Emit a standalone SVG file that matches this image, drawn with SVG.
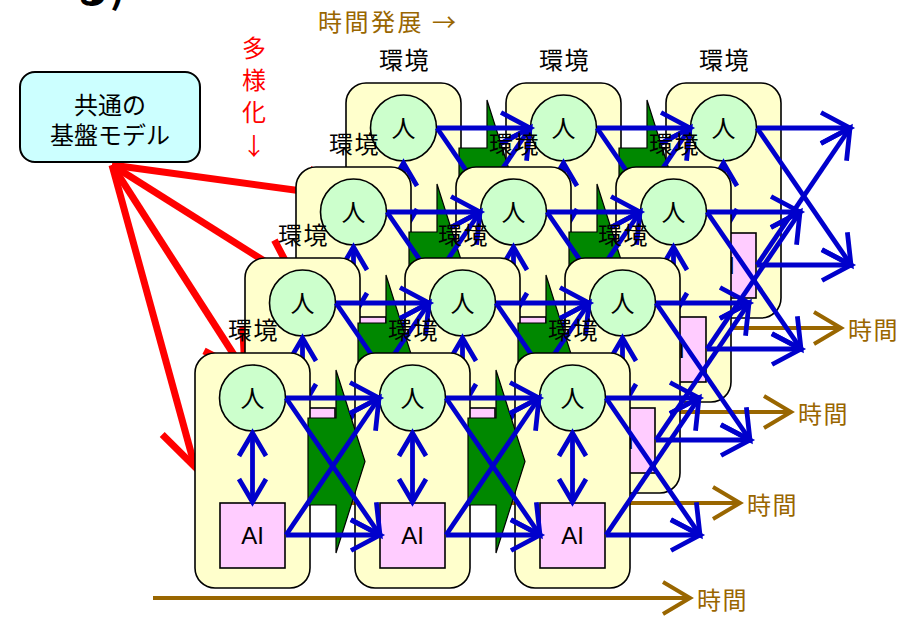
<svg xmlns="http://www.w3.org/2000/svg" width="908" height="618" viewBox="0 0 908 618">
<style>
.env{fill:#FFFFCC;stroke:#000;stroke-width:1.6}
.hum{fill:#CCFFCC;stroke:#000;stroke-width:1.6}
.ai{fill:#FFCCFF;stroke:#000;stroke-width:1.6}
.jp{font-family:'Noto Sans CJK JP',sans-serif;font-size:24px;text-anchor:middle;fill:#000}
.lbl{font-family:'Noto Sans CJK JP',sans-serif;font-size:24px;text-anchor:middle;fill:#000;letter-spacing:1.5px}
.ait{font-family:'Liberation Sans',Arial,sans-serif;font-size:24px;text-anchor:middle;fill:#000}
.grn{fill:#008800;stroke:#000;stroke-width:1.2}
.bl{stroke:#0000CC;stroke-width:4.8;fill:none;marker-end:url(#mb)}
.dbl{stroke:#0000CC;stroke-width:4.8;fill:none;marker-start:url(#md);marker-end:url(#md)}
.tm{stroke:#996600;stroke-width:4;fill:none;marker-end:url(#mt)}
.tmt{font-family:'Noto Sans CJK JP',sans-serif;font-size:24px;fill:#996600;letter-spacing:1.5px}
.red{stroke:#FF0000;stroke-width:7;fill:none;marker-end:url(#mr)}
</style>
<defs>
<marker id="mb" markerUnits="userSpaceOnUse" orient="auto" refX="0" refY="0" markerWidth="1" markerHeight="1" style="overflow:visible"><path d="M-29,-15.5 L0,0 L-29,15.5" fill="none" stroke="#0000CC" stroke-width="4.8"/></marker>
<marker id="md" markerUnits="userSpaceOnUse" orient="auto-start-reverse" refX="0" refY="0" markerWidth="1" markerHeight="1" style="overflow:visible"><path d="M-23,-13.5 L0,0 L-23,13.5" fill="none" stroke="#0000CC" stroke-width="4.8"/></marker>
<marker id="mt" markerUnits="userSpaceOnUse" orient="auto" refX="0" refY="0" markerWidth="1" markerHeight="1" style="overflow:visible"><path d="M-27,-16 L0,0 L-27,16" fill="none" stroke="#996600" stroke-width="4"/></marker>
<marker id="mr" markerUnits="userSpaceOnUse" orient="auto" refX="0" refY="0" markerWidth="1" markerHeight="1" style="overflow:visible"><path d="M-40,-23 L0,0 L-40,23" fill="none" stroke="#FF0000" stroke-width="7"/></marker>
</defs>
<rect width="908" height="618" fill="#FFFFFF"/>

<text x="70" y="3" font-family="'Noto Sans CJK JP',sans-serif" font-size="40" font-weight="bold" fill="#000">る)</text>
<text x="318" y="31" font-family="'Noto Sans CJK JP',sans-serif" font-size="24px" fill="#996600" letter-spacing="2.5">時間発展 →</text>
<g id="diversify-label" font-family="'Noto Sans CJK JP',sans-serif" font-size="24px" fill="#FF0000" text-anchor="middle">
<text x="254" y="57">多</text>
<text x="254" y="89">様</text>
<text x="254" y="121">化</text>
<text x="254" y="155">↓</text>
</g>

<!-- red arrow to layer 3 -->
<g id="red-L3"><path class="red" d="M112,165 L346,197"/></g>

<!-- LAYER 3 -->
<g id="layer3" transform="translate(151,-270)">
<g id="L3-env1">
<rect class="env" x="195" y="353" width="115" height="235" rx="20"/><text class="lbl" x="253.5" y="339">環境</text>
<circle class="hum" cx="252.5" cy="398" r="33"/><text class="jp" x="252.5" y="407">人</text>
<rect class="ai" x="220" y="503" width="65" height="65"/><text class="ait" x="252.5" y="544">AI</text>
</g>
<g id="L3-env2" transform="translate(160,0)">
<rect class="env" x="195" y="353" width="115" height="235" rx="20"/><text class="lbl" x="253.5" y="339">環境</text>
<circle class="hum" cx="252.5" cy="398" r="33"/><text class="jp" x="252.5" y="407">人</text>
<rect class="ai" x="220" y="503" width="65" height="65"/><text class="ait" x="252.5" y="544">AI</text>
</g>
<g id="L3-env3" transform="translate(320,0)">
<rect class="env" x="195" y="353" width="115" height="235" rx="20"/><text class="lbl" x="253.5" y="339">環境</text>
<circle class="hum" cx="252.5" cy="398" r="33"/><text class="jp" x="252.5" y="407">人</text>
<rect class="ai" x="220" y="503" width="65" height="65"/><text class="ait" x="252.5" y="544">AI</text>
</g>
<g id="L3-connectors">
<path class="grn" d="M308,418 H336 V370 L365,461.5 L336,553 V505 H308 Z"/>
<path class="grn" d="M468,418 H496 V370 L525,461.5 L496,553 V505 H468 Z"/>
<line class="dbl" x1="252.5" y1="433" x2="252.5" y2="502"/>
<line class="dbl" x1="412.5" y1="433" x2="412.5" y2="502"/>
<line class="dbl" x1="572.5" y1="433" x2="572.5" y2="502"/>
<path class="bl" d="M286,398 L379,398"/><path class="bl" d="M286,398 L380,535"/><path class="bl" d="M286,535 L379,398"/><path class="bl" d="M286,535 L380,535"/>
<path class="bl" d="M446,398 L539,398"/><path class="bl" d="M446,398 L540,535"/><path class="bl" d="M446,535 L539,398"/><path class="bl" d="M446,535 L540,535"/>
<path class="bl" d="M606,398 L699,398"/><path class="bl" d="M606,398 L700,535"/><path class="bl" d="M606,535 L699,398"/><path class="bl" d="M606,535 L700,535"/>
<line class="tm" x1="153" y1="598" x2="690" y2="598"/>
<text class="tmt" x="697" y="609">時間</text>
</g>
</g>

<g id="red-L2"><path class="red" d="M112,165 L296,281"/></g>

<!-- LAYER 2 -->
<g id="layer2" transform="translate(101,-186)">
<g id="L2-env1">
<rect class="env" x="195" y="353" width="115" height="235" rx="20"/><text class="lbl" x="253.5" y="339">環境</text>
<circle class="hum" cx="252.5" cy="398" r="33"/><text class="jp" x="252.5" y="407">人</text>
<rect class="ai" x="220" y="503" width="65" height="65"/><text class="ait" x="252.5" y="544">AI</text>
</g>
<g id="L2-env2" transform="translate(160,0)">
<rect class="env" x="195" y="353" width="115" height="235" rx="20"/><text class="lbl" x="253.5" y="339">環境</text>
<circle class="hum" cx="252.5" cy="398" r="33"/><text class="jp" x="252.5" y="407">人</text>
<rect class="ai" x="220" y="503" width="65" height="65"/><text class="ait" x="252.5" y="544">AI</text>
</g>
<g id="L2-env3" transform="translate(320,0)">
<rect class="env" x="195" y="353" width="115" height="235" rx="20"/><text class="lbl" x="253.5" y="339">環境</text>
<circle class="hum" cx="252.5" cy="398" r="33"/><text class="jp" x="252.5" y="407">人</text>
<rect class="ai" x="220" y="503" width="65" height="65"/><text class="ait" x="252.5" y="544">AI</text>
</g>
<g id="L2-connectors">
<path class="grn" d="M308,418 H336 V370 L365,461.5 L336,553 V505 H308 Z"/>
<path class="grn" d="M468,418 H496 V370 L525,461.5 L496,553 V505 H468 Z"/>
<line class="dbl" x1="252.5" y1="433" x2="252.5" y2="502"/>
<line class="dbl" x1="412.5" y1="433" x2="412.5" y2="502"/>
<line class="dbl" x1="572.5" y1="433" x2="572.5" y2="502"/>
<path class="bl" d="M286,398 L379,398"/><path class="bl" d="M286,398 L380,535"/><path class="bl" d="M286,535 L379,398"/><path class="bl" d="M286,535 L380,535"/>
<path class="bl" d="M446,398 L539,398"/><path class="bl" d="M446,398 L540,535"/><path class="bl" d="M446,535 L539,398"/><path class="bl" d="M446,535 L540,535"/>
<path class="bl" d="M606,398 L699,398"/><path class="bl" d="M606,398 L700,535"/><path class="bl" d="M606,535 L699,398"/><path class="bl" d="M606,535 L700,535"/>
<line class="tm" x1="153" y1="598" x2="690" y2="598"/>
<text class="tmt" x="697" y="609">時間</text>
</g>
</g>

<g id="red-L1"><path class="red" d="M112,165 L245,372"/></g>

<!-- LAYER 1 -->
<g id="layer1" transform="translate(50,-95)">
<g id="L1-env1">
<rect class="env" x="195" y="353" width="115" height="235" rx="20"/><text class="lbl" x="253.5" y="339">環境</text>
<circle class="hum" cx="252.5" cy="398" r="33"/><text class="jp" x="252.5" y="407">人</text>
<rect class="ai" x="220" y="503" width="65" height="65"/><text class="ait" x="252.5" y="544">AI</text>
</g>
<g id="L1-env2" transform="translate(160,0)">
<rect class="env" x="195" y="353" width="115" height="235" rx="20"/><text class="lbl" x="253.5" y="339">環境</text>
<circle class="hum" cx="252.5" cy="398" r="33"/><text class="jp" x="252.5" y="407">人</text>
<rect class="ai" x="220" y="503" width="65" height="65"/><text class="ait" x="252.5" y="544">AI</text>
</g>
<g id="L1-env3" transform="translate(320,0)">
<rect class="env" x="195" y="353" width="115" height="235" rx="20"/><text class="lbl" x="253.5" y="339">環境</text>
<circle class="hum" cx="252.5" cy="398" r="33"/><text class="jp" x="252.5" y="407">人</text>
<rect class="ai" x="220" y="503" width="65" height="65"/><text class="ait" x="252.5" y="544">AI</text>
</g>
<g id="L1-connectors">
<path class="grn" d="M308,418 H336 V370 L365,461.5 L336,553 V505 H308 Z"/>
<path class="grn" d="M468,418 H496 V370 L525,461.5 L496,553 V505 H468 Z"/>
<line class="dbl" x1="252.5" y1="433" x2="252.5" y2="502"/>
<line class="dbl" x1="412.5" y1="433" x2="412.5" y2="502"/>
<line class="dbl" x1="572.5" y1="433" x2="572.5" y2="502"/>
<path class="bl" d="M286,398 L379,398"/><path class="bl" d="M286,398 L380,535"/><path class="bl" d="M286,535 L379,398"/><path class="bl" d="M286,535 L380,535"/>
<path class="bl" d="M446,398 L539,398"/><path class="bl" d="M446,398 L540,535"/><path class="bl" d="M446,535 L539,398"/><path class="bl" d="M446,535 L540,535"/>
<path class="bl" d="M606,398 L699,398"/><path class="bl" d="M606,398 L700,535"/><path class="bl" d="M606,535 L699,398"/><path class="bl" d="M606,535 L700,535"/>
<line class="tm" x1="153" y1="598" x2="690" y2="598"/>
<text class="tmt" x="697" y="609">時間</text>
</g>
</g>

<g id="red-L0"><path class="red" d="M112,165 L195,467"/></g>

<!-- LAYER 0 (front) -->
<g id="layer0">
<g id="L0-env1">
<rect class="env" x="195" y="353" width="115" height="235" rx="20"/><text class="lbl" x="253.5" y="339">環境</text>
<circle class="hum" cx="252.5" cy="398" r="33"/><text class="jp" x="252.5" y="407">人</text>
<rect class="ai" x="220" y="503" width="65" height="65"/><text class="ait" x="252.5" y="544">AI</text>
</g>
<g id="L0-env2" transform="translate(160,0)">
<rect class="env" x="195" y="353" width="115" height="235" rx="20"/><text class="lbl" x="253.5" y="339">環境</text>
<circle class="hum" cx="252.5" cy="398" r="33"/><text class="jp" x="252.5" y="407">人</text>
<rect class="ai" x="220" y="503" width="65" height="65"/><text class="ait" x="252.5" y="544">AI</text>
</g>
<g id="L0-env3" transform="translate(320,0)">
<rect class="env" x="195" y="353" width="115" height="235" rx="20"/><text class="lbl" x="253.5" y="339">環境</text>
<circle class="hum" cx="252.5" cy="398" r="33"/><text class="jp" x="252.5" y="407">人</text>
<rect class="ai" x="220" y="503" width="65" height="65"/><text class="ait" x="252.5" y="544">AI</text>
</g>
<g id="L0-connectors">
<path class="grn" d="M308,418 H336 V370 L365,461.5 L336,553 V505 H308 Z"/>
<path class="grn" d="M468,418 H496 V370 L525,461.5 L496,553 V505 H468 Z"/>
<line class="dbl" x1="252.5" y1="433" x2="252.5" y2="502"/>
<line class="dbl" x1="412.5" y1="433" x2="412.5" y2="502"/>
<line class="dbl" x1="572.5" y1="433" x2="572.5" y2="502"/>
<path class="bl" d="M286,398 L379,398"/><path class="bl" d="M286,398 L380,535"/><path class="bl" d="M286,535 L379,398"/><path class="bl" d="M286,535 L380,535"/>
<path class="bl" d="M446,398 L539,398"/><path class="bl" d="M446,398 L540,535"/><path class="bl" d="M446,535 L539,398"/><path class="bl" d="M446,535 L540,535"/>
<path class="bl" d="M606,398 L699,398"/><path class="bl" d="M606,398 L700,535"/><path class="bl" d="M606,535 L699,398"/><path class="bl" d="M606,535 L700,535"/>
<line class="tm" x1="153" y1="598" x2="690" y2="598"/>
<text class="tmt" x="697" y="609">時間</text>
</g>
</g>

<g id="foundation-model">
<rect x="20" y="72" width="180" height="90" rx="15" fill="#CCFFFF" stroke="#000" stroke-width="2"/>
<text class="jp" x="110" y="114"><tspan x="110" y="114">共通の</tspan><tspan x="110" y="144">基盤モデル</tspan></text>
</g>
</svg>
